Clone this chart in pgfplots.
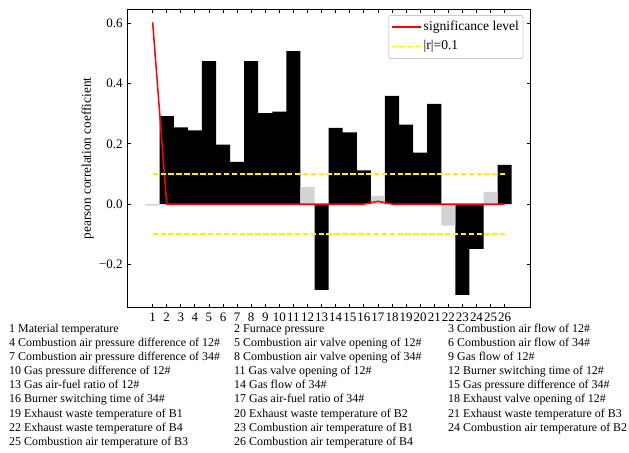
\documentclass[border=0pt]{standalone}
\usepackage{fontspec}
\setmainfont{Liberation Serif}
\usepackage{pgfplots}
\pgfplotsset{compat=1.18}
\definecolor{barGray}{HTML}{D3D3D3}
\begin{document}
\begin{tikzpicture}
\useasboundingbox (0,0) rectangle (629bp,453bp);
\begin{axis}[
  at={(127.3bp,145bp)}, anchor=south west,
  scale only axis, width=402.7bp, height=299bp,
  xmin=-0.8, xmax=27.8, ymin=-0.3455, ymax=0.648,
  xtick={1,2,3,4,5,6,7,8,9,10,11,12,13,14,15,16,17,18,19,20,21,22,23,24,25,26},
  xticklabels={1,2,3,4,5,6,7,8,9,10,11,12,13,14,15,16,17,18,19,20,21,22,23,24,25,26},
  ytick={-0.2,0,0.2,0.4,0.6},
  yticklabels={−0.2,0.0,0.2,0.4,0.6},
  tick align=inside, major tick length=3.5bp,
  every tick/.style={black, line width=0.8bp},
  axis line style={line width=1bp, black},
  tick label style={font=\fontsize{13}{15}\selectfont},
  xticklabel style={anchor=north, inner sep=0pt, yshift=-4.8bp},
  yticklabel style={anchor=east, inner sep=0pt, xshift=-4.6bp},
  ylabel={pearson correlation coefficient},
  ylabel style={at={(axis description cs:-0.0986,0.5)}, anchor=center, font=\fontsize{13.3}{15}\selectfont},
  legend cell align=left,
  legend style={at={(0.9834,0.98)}, anchor=north east, draw=black!20, rounded corners=2bp,
    line width=0.8bp, fill=white, font=\fontsize{13.6}{15}\selectfont,
    inner xsep=2bp, inner ysep=3.6bp, row sep=3bp,
    nodes={inner sep=2bp, text height=9.5bp, text depth=3bp},
    /tikz/every even column/.append style={column sep=7bp}},
  legend image code/.code={\draw[#1] (0bp,0bp) -- (29.4bp,0bp);},
]
\addplot[ybar, bar width=1, bar shift=0pt, fill=black, draw=none, forget plot] coordinates {
  (2,0.292) (3,0.255) (4,0.245) (5,0.475) (6,0.197) (7,0.140) (8,0.475) (9,0.302)
  (10,0.307) (11,0.508) (13,-0.285) (14,0.253) (15,0.238) (16,0.112)
  (18,0.359) (19,0.264) (20,0.171) (21,0.333) (23,-0.302) (24,-0.149) (26,0.130)};
\addplot[ybar, bar width=1, bar shift=0pt, fill=barGray, draw=none, forget plot] coordinates {
  (1,-0.005) (12,0.056) (17,0.027) (22,-0.072) (25,0.040)};
\addplot[red, line width=1.5bp] coordinates {
  (1,0.604) (2,0) (3,0) (4,0) (5,0) (6,0) (7,0) (8,0) (9,0) (10,0) (11,0) (12,0) (13,0)
  (14,0) (15,0) (16,0) (17,0.009) (18,0) (19,0) (20,0) (21,0) (22,0) (23,0) (24,0) (25,0) (26,0)};
\addplot[yellow, line width=1.5bp, dash pattern=on 5.5bp off 2.4bp] coordinates {(1,0.1) (26,0.1)};
\addplot[yellow, line width=1.5bp, dash pattern=on 5.5bp off 2.4bp, forget plot] coordinates {(1,-0.1) (26,-0.1)};
\legend{significance level, |r|=0.1}
\end{axis}
\begin{scope}[every node/.style={anchor=base west, inner sep=0pt, font=\fontsize{12}{14}\selectfont}]
\node at (9bp,120bp) {1 Material temperature};
\node at (234bp,120bp) {2 Furnace pressure};
\node at (448bp,120bp) {3 Combustion air flow of 12\#};
\node at (9bp,106bp) {4 Combustion air pressure difference of 12\#};
\node at (234bp,106bp) {5 Combustion air valve opening of 12\#};
\node at (448bp,106bp) {6 Combustion air flow of 34\#};
\node at (9bp,92bp) {7 Combustion air pressure difference of 34\#};
\node at (234bp,92bp) {8 Combustion air valve opening of 34\#};
\node at (448bp,92bp) {9 Gas flow of 12\#};
\node at (9bp,78bp) {10 Gas pressure difference of 12\#};
\node at (234bp,78bp) {11 Gas valve opening of 12\#};
\node at (448bp,78bp) {12 Burner switching time of 12\#};
\node at (9bp,64bp) {13 Gas air-fuel ratio of 12\#};
\node at (234bp,64bp) {14 Gas flow of 34\#};
\node at (448bp,64bp) {15 Gas pressure difference of 34\#};
\node at (9bp,50bp) {16 Burner switching time of 34\#};
\node at (234bp,50bp) {17 Gas air-fuel ratio of 34\#};
\node at (448bp,50bp) {18 Exhaust valve opening of 12\#};
\node at (9bp,36bp) {19 Exhaust waste temperature of B1};
\node at (234bp,36bp) {20 Exhaust waste temperature of B2};
\node at (448bp,36bp) {21 Exhaust waste temperature of B3};
\node at (9bp,22bp) {22 Exhaust waste temperature of B4};
\node at (234bp,22bp) {23 Combustion air temperature of B1};
\node at (448bp,22bp) {24 Combustion air temperature of B2};
\node at (9bp,8bp) {25 Combustion air temperature of B3};
\node at (234bp,8bp) {26 Combustion air temperature of B4};
\end{scope}
\end{tikzpicture}
\end{document}
